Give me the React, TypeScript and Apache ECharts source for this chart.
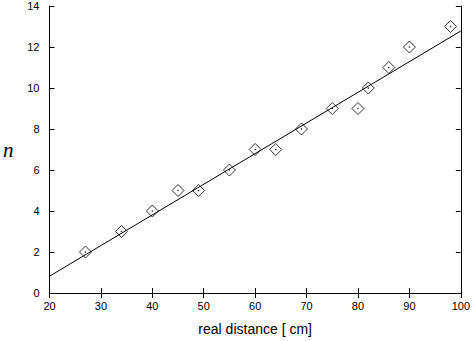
import React, { useEffect, useRef } from "react";
import * as echarts from "echarts";

const distances = [27, 34, 40, 45, 49, 55, 60, 64, 69, 75, 80, 82, 86, 90, 98];
const counts = [2, 3, 4, 5, 5, 6, 7, 7, 8, 9, 9, 10, 11, 12, 13];
const fitX = [20, 100];
const fitY = [0.82, 12.78];

export default function App() {
  const ref = useRef<HTMLDivElement>(null);
  useEffect(() => {
    const chart = echarts.init(ref.current!, null, { renderer: "svg" });
    const pts = distances.map((d, i) => [d, counts[i]]);
    const fit = fitX.map((x, i) => [x, fitY[i]]);
    const axisLine = { show: true, lineStyle: { color: "#000", width: 1 } };
    const tick = { show: true, inside: true, length: 5, lineStyle: { color: "#000" } };
    const label = { color: "#000", fontSize: 11, fontFamily: "Liberation Sans, Arial, sans-serif" };
    chart.setOption({
      animation: false,
      backgroundColor: "#fff",
      grid: { left: 48, right: 11, top: 6, bottom: 46 },
      xAxis: [
        {
          type: "value", min: 20, max: 100, interval: 10, position: "bottom",
          axisLine, axisTick: tick, splitLine: { show: false },
          axisLabel: { ...label, margin: 7 },
          name: "real distance [ cm]", nameLocation: "middle", nameGap: 29,
          nameTextStyle: { color: "#000", fontSize: 14, fontFamily: "Liberation Sans, Arial, sans-serif" },
        },
        {
          type: "value", min: 20, max: 100, interval: 10, position: "top",
          axisLine, axisTick: tick, splitLine: { show: false }, axisLabel: { show: false },
        },
      ],
      yAxis: [
        {
          type: "value", min: 0, max: 14, interval: 2, position: "left",
          axisLine, axisTick: tick, splitLine: { show: false },
          axisLabel: { ...label, margin: 10 },
          name: "n", nameLocation: "middle", nameGap: 36, nameRotate: 0,
          nameTextStyle: { color: "#000", fontSize: 21, fontStyle: "italic", fontFamily: "Liberation Serif, Times New Roman, serif" },
        },
        {
          type: "value", min: 0, max: 14, interval: 2, position: "right",
          axisLine, axisTick: tick, splitLine: { show: false }, axisLabel: { show: false },
        },
      ],
      series: [
        {
          type: "line", data: fit, showSymbol: false, symbol: "none",
          lineStyle: { color: "#000", width: 1 }, silent: true,
        },
        {
          type: "scatter", data: pts, symbol: "diamond", symbolSize: 12,
          itemStyle: { color: "transparent", borderColor: "#000", borderWidth: 1 },
        },
        {
          type: "scatter", data: pts, symbol: "circle", symbolSize: 1.5,
          itemStyle: { color: "#000" },
        },
      ],
    });
    return () => chart.dispose();
  }, []);
  return <div ref={ref} style={{ width: 473, height: 341, position: "absolute", left: 0, top: 0 }} />;
}
